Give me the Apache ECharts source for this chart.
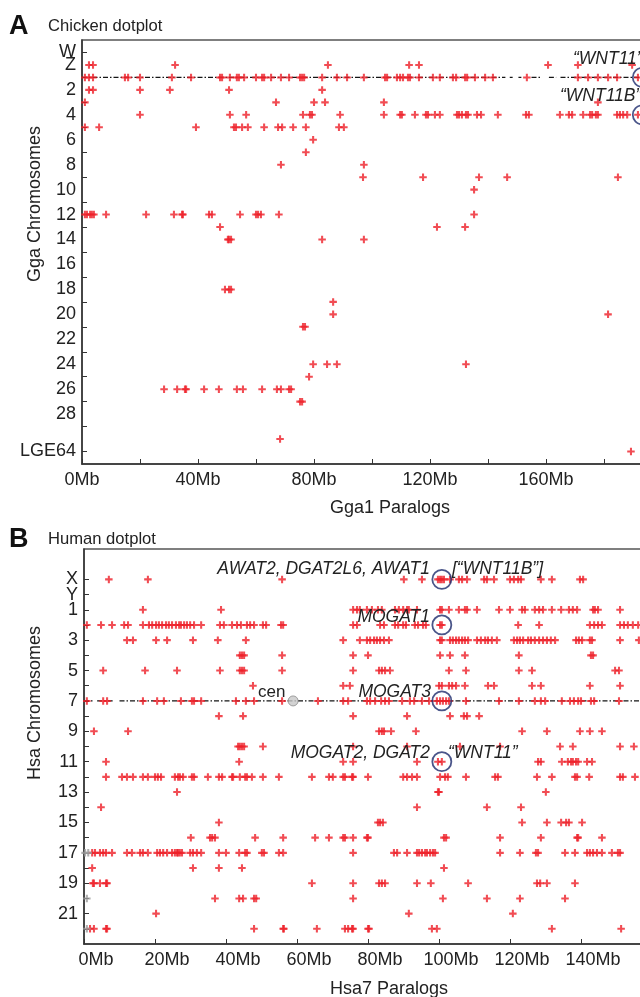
<!DOCTYPE html>
<html><head><meta charset="utf-8">
<script src="https://cdn.jsdelivr.net/npm/echarts@6/dist/echarts.min.js"></script>
<style>html,body{margin:0;padding:0;background:#fff}#c{width:640px;height:997px}</style>
</head><body><div id="c"></div><script>
// ---------- Panel A : Chicken dotplot (Gga1 paralog positions, Mb) ----------
const ggaCats = ['top','W','Z','1','2','3','4','5','6','7','8','9','10','11','12','13','14','15','16','17','18','19','20','21','22','23','24','25','26','27','28','29','30','LGE64','bottom'];
const ggaLabelled = ['W','Z','2','4','6','8','10','12','14','16','18','20','22','24','26','28','LGE64'];
const ggaTicked = ['W','1','3','5','7','9','11','13','15','17','19','21','23','25','27','29','LGE64'];
const ggaXTicks = [0, 40, 80, 120, 160];

const ggaZ = [2.4, 3.8, 32.1, 84.8, 112.8, 116.2, 160.7, 171.0, 189.7];
const gga1 = [1.0, 2.4, 3.8, 14.8, 15.9, 20.0, 31.0, 37.6, 47.6, 48.3, 51.0, 53.4, 54.1, 55.9, 60.0, 62.1, 62.8, 65.2, 68.6, 71.4, 75.2, 75.9, 76.6, 82.8, 87.9, 91.4, 97.2, 104.5, 105.2, 108.6, 109.7, 110.7, 112.4, 113.1, 116.2, 121.0, 123.4, 127.9, 129.0, 132.1, 132.8, 135.5, 139.0, 141.7, 153.4, 171.0, 174.5, 177.9, 181.4, 184.5, 191.7];
const gga2 = [2.4, 3.8, 20.0, 30.3, 50.7, 82.8];
const gga3 = [1.0, 66.9, 80.0, 83.8, 104.1, 177.9];
const gga4 = [20.0, 51.0, 56.6, 76.2, 78.6, 79.3, 89.0, 104.1, 109.7, 110.3, 114.8, 118.6, 119.3, 121.7, 123.4, 129.3, 130.0, 131.0, 132.4, 133.1, 136.2, 137.6, 143.4, 153.1, 154.1, 164.8, 167.9, 169.0, 172.8, 175.2, 175.9, 177.2, 177.9, 184.5, 185.5, 186.6, 188.0, 191.7];
const gga5 = [1.0, 5.9, 39.3, 52.4, 53.1, 55.2, 57.2, 62.8, 67.6, 69.0, 72.8, 77.2, 88.6, 90.3];
const gga6 = [79.7];
const gga7 = [77.2];
const gga8 = [68.6, 97.2];
const gga9 = [96.9, 117.6, 136.9, 146.6, 184.8];
const gga10 = [135.2];
const gga12 = [1.0, 1.7, 2.8, 3.4, 4.1, 8.3, 22.1, 31.7, 34.5, 34.8, 43.8, 44.8, 54.5, 60.0, 60.7, 61.7, 67.9, 135.2];
const gga13 = [47.6, 122.4, 132.1];
const gga14 = [50.3, 50.7, 51.4, 82.8, 97.2];
const gga18 = [49.3, 50.7, 51.4];
const gga19 = [86.6];
const gga20 = [86.6, 181.4];
const gga21 = [76.2, 76.9];
const gga24 = [79.7, 84.5, 87.9, 132.4];
const gga25 = [78.3];
const gga26 = [28.3, 32.8, 35.5, 35.9, 42.1, 47.2, 53.4, 55.5, 62.1, 67.2, 68.6, 71.4, 72.1];
const gga27 = [75.2, 75.9];
const gga30 = [68.3];
const ggaLGE64 = [189.3];
const ggaRows = [['Z',ggaZ],['1',gga1],['2',gga2],['3',gga3],['4',gga4],['5',gga5],['6',gga6],['7',gga7],['8',gga8],['9',gga9],['10',gga10],['12',gga12],['13',gga13],['14',gga14],['18',gga18],['19',gga19],['20',gga20],['21',gga21],['24',gga24],['25',gga25],['26',gga26],['27',gga27],['30',gga30],['LGE64',ggaLGE64]];
const ggaSelfSegments = [[0, 146], [147.5, 148.5], [150.5, 151.5], [155, 158.5], [161, 163.5], [165, 200]];
const ggaCircles = [[193.2, '1'], [193.2, '4']];

// ---------- Panel B : Human dotplot (Hsa7 paralog positions, Mb) ----------
const hsaCats = ['top2','top1','X','Y','1','2','3','4','5','6','7','8','9','10','11','12','13','14','15','16','17','18','19','20','21','22','bottom'];
const hsaLabelled = ['X','Y','1','3','5','7','9','11','13','15','17','19','21'];
const hsaTicked = ['X','Y','1','2','3','4','5','6','7','8','9','10','11','12','13','14','15','16','17','18','19','20','21','22'];
const hsaXTicks = [0, 20, 40, 60, 80, 100, 120, 140];

const hsaX = [7.0, 18.0, 55.8, 90.1, 95.2, 99.7, 100.3, 100.8, 101.4, 103.1, 105.6, 106.5, 107.9, 112.7, 113.5, 115.5, 120.0, 121.1, 122.3, 123.1, 128.7, 131.8, 139.7, 140.6];
const hsa1 = [16.6, 38.6, 75.8, 76.9, 77.7, 79.7, 81.1, 82.8, 83.9, 87.6, 88.7, 89.9, 91.0, 91.5, 93.8, 100.3, 100.8, 102.8, 105.6, 107.3, 107.9, 110.7, 116.9, 120.0, 123.4, 124.2, 127.0, 128.2, 129.3, 131.8, 134.4, 136.6, 137.7, 138.9, 143.4, 143.9, 144.8, 151.0];
const hsa2 = [0.8, 4.8, 7.9, 11.3, 12.4, 16.6, 18.3, 19.2, 20.3, 21.1, 22.0, 23.1, 23.9, 24.8, 25.9, 26.8, 27.3, 28.2, 29.0, 29.9, 31.0, 33.0, 38.3, 39.4, 41.7, 43.1, 44.2, 45.9, 46.8, 47.9, 50.4, 51.3, 55.5, 56.1, 75.8, 76.9, 83.4, 84.5, 87.6, 88.5, 89.9, 90.7, 93.2, 94.1, 95.5, 96.3, 100.3, 100.8, 122.3, 128.2, 142.5, 143.7, 144.8, 145.9, 151.0, 152.1, 153.2, 154.6, 156.1];
const hsa3 = [12.1, 13.8, 20.3, 23.4, 30.7, 37.7, 45.6, 73.0, 77.7, 79.7, 80.6, 81.7, 82.5, 83.4, 84.5, 85.9, 100.3, 100.8, 103.1, 103.9, 104.8, 105.6, 106.5, 107.3, 108.2, 110.7, 111.8, 113.0, 113.8, 114.9, 116.3, 121.1, 122.0, 122.8, 123.7, 125.1, 125.9, 127.0, 128.2, 129.3, 130.4, 131.5, 132.7, 138.6, 139.4, 140.3, 142.5, 143.1, 151.0, 156.3];
const hsa4 = [43.9, 44.5, 45.1, 55.8, 75.8, 80.0, 100.3, 103.1, 107.3, 122.5, 142.8, 143.4];
const hsa5 = [5.4, 17.2, 26.2, 38.3, 43.9, 44.5, 45.1, 55.8, 75.8, 83.1, 83.9, 84.8, 86.2, 102.8, 107.6, 122.5, 126.2, 149.6, 150.7];
const hsa6 = [47.6, 73.0, 74.9, 100.0, 100.8, 102.8, 103.7, 104.8, 107.3, 113.8, 115.5, 126.2, 128.7, 142.5, 151.0];
const hsa7 = [0.8, 5.4, 6.5, 16.6, 20.6, 22.5, 27.3, 30.4, 31.0, 33.0, 42.8, 45.6, 47.9, 55.8, 65.9, 73.0, 74.4, 79.7, 80.6, 82.0, 83.7, 84.8, 85.9, 89.6, 91.8, 93.0, 95.2, 97.2, 99.4, 100.3, 101.1, 102.0, 102.8, 107.6, 116.9, 122.5, 127.0, 128.7, 129.9, 134.6, 136.9, 138.0, 139.2, 140.0, 142.8, 143.7, 150.7];
const hsa8 = [38.0, 44.8, 75.8, 91.0, 103.1, 107.0, 107.9, 111.3];
const hsa9 = [2.8, 12.4, 83.1, 83.9, 84.5, 86.5, 93.5, 123.4, 130.4, 139.7, 142.5, 145.9];
const hsa10 = [43.4, 43.9, 44.5, 45.1, 50.4, 75.8, 91.0, 105.9, 117.2, 134.1, 137.7, 151.0, 154.9];
const hsa11 = [6.2, 43.7, 73.0, 75.8, 93.8, 99.7, 100.8, 127.9, 128.7, 134.6, 136.3, 137.2, 137.7, 138.6, 139.2, 141.7, 143.1];
const hsa12 = [6.2, 10.7, 12.1, 13.8, 16.6, 18.0, 20.0, 20.8, 21.7, 25.6, 26.5, 27.0, 27.9, 30.4, 31.0, 34.9, 38.0, 38.9, 41.7, 42.0, 43.9, 45.4, 45.9, 47.3, 50.4, 54.9, 64.2, 69.0, 70.1, 73.0, 73.5, 75.5, 75.8, 80.0, 89.9, 91.0, 92.4, 93.8, 100.3, 101.7, 102.5, 107.6, 115.8, 116.6, 127.6, 131.8, 138.3, 138.9, 142.3, 151.0, 151.8, 155.2];
const hsa13 = [26.2, 99.7, 100.0, 130.1];
const hsa14 = [4.8, 93.8, 113.5, 123.1];
const hsa15 = [38.0, 82.8, 83.4, 84.2, 123.4, 130.4, 134.4, 135.8, 136.6, 140.3];
const hsa16 = [30.1, 35.5, 36.1, 36.9, 48.2, 56.1, 65.1, 69.0, 73.0, 73.5, 75.8, 79.7, 80.0, 101.4, 102.0, 117.2, 128.7, 138.9, 139.2, 145.9];
const hsa17 = [2.3, 3.1, 4.5, 5.4, 6.2, 7.9, 12.1, 13.5, 15.8, 16.6, 18.0, 20.6, 21.4, 22.3, 23.4, 24.8, 25.6, 26.2, 26.5, 27.0, 27.6, 29.9, 30.7, 31.8, 33.0, 38.0, 40.0, 43.7, 45.4, 45.9, 50.1, 50.7, 54.9, 56.1, 75.8, 87.3, 88.2, 91.0, 93.8, 94.4, 95.2, 96.1, 96.6, 97.5, 98.3, 98.9, 117.2, 122.8, 127.3, 127.9, 135.5, 138.3, 141.7, 142.5, 143.4, 144.5, 145.9, 148.7, 150.4, 151.0];
const hsa18 = [2.3, 30.7, 38.0, 44.5, 101.4];
const hsa19 = [2.5, 2.8, 4.5, 6.2, 6.5, 64.2, 75.8, 83.1, 83.9, 84.8, 93.8, 97.7, 108.2, 127.6, 128.5, 130.4, 138.3];
const hsa20 = [36.9, 43.7, 44.8, 47.9, 48.5, 75.8, 101.1, 113.5, 122.8, 135.5];
const hsa21 = [20.3, 91.5, 120.8];
const hsa22 = [1.7, 2.8, 6.2, 6.5, 47.9, 56.1, 56.3, 65.6, 73.5, 74.4, 75.5, 75.8, 80.0, 80.3, 98.0, 99.4, 131.8, 151.3];
const hsaRows = [['X',hsaX],['1',hsa1],['2',hsa2],['3',hsa3],['4',hsa4],['5',hsa5],['6',hsa6],['7',hsa7],['8',hsa8],['9',hsa9],['10',hsa10],['11',hsa11],['12',hsa12],['13',hsa13],['14',hsa14],['15',hsa15],['16',hsa16],['17',hsa17],['18',hsa18],['19',hsa19],['20',hsa20],['21',hsa21],['22',hsa22]];
const hsaGrey17 = [0.3, 1.2];
const hsaGrey20 = [0.8];
const hsaGrey22 = [0.8];
const hsaSelfSegments = [[0, 2.8], [3.7, 8.6], [10, 160]];
const hsaCen = [58.9];
const hsaCircles = [[100.8, 'X'], [100.8, '2'], [100.8, '7'], [100.8, '11']];

// ---------- build ----------
const FONT = '"Liberation Sans", Arial, Helvetica, sans-serif';
const PLUS = 'path://M2.9,0H5.1V2.9H8V5.1H5.1V8H2.9V5.1H0V2.9H2.9Z';
const RED = '#ee1f28';
const INK = '#222';

function rowsToData(rows) {
  const out = [];
  rows.forEach(([name, arr]) => arr.forEach(x => out.push([x, name])));
  return out;
}
function plusSeries(data, xi, color) {
  return { type: 'scatter', xAxisIndex: xi, yAxisIndex: xi, data: data, symbol: PLUS, symbolSize: 7.5,
    itemStyle: { color: color }, z: 4, silent: true, animation: false };
}
function selfLine(seg, xi, row) {
  return { type: 'line', xAxisIndex: xi, yAxisIndex: xi, data: [[seg[0], row], [seg[1], row]],
    symbol: 'none', lineStyle: { color: '#151515', width: 1.4, type: [5, 2, 1.5, 2] }, z: 3, silent: true, animation: false };
}
function circleSeries(data, xi) {
  return { type: 'scatter', xAxisIndex: xi, yAxisIndex: xi, data: data, symbol: 'circle', symbolSize: 19,
    itemStyle: { color: 'rgba(0,0,0,0)', borderColor: '#1d2a6c', borderWidth: 1.8 }, z: 6, silent: true, clip: false };
}

const ggaLabSet = new Set(ggaLabelled), ggaTickSet = new Set(ggaTicked);
const hsaLabSet = new Set(hsaLabelled), hsaTickSet = new Set(hsaTicked);

function xAxisCfg(gi, max, labelSet, pad) {
  return { type: 'value', gridIndex: gi, min: 0, max: max, interval: 20,
    axisLine: { show: true, lineStyle: { color: '#333', width: 1.5 } },
    axisTick: { show: true, inside: true, length: 5, lineStyle: { color: '#333', width: 1 } },
    splitLine: { show: false },
    axisLabel: { fontSize: 18, fontFamily: FONT, color: INK, margin: 7, padding: pad, hideOverlap: false,
      formatter: v => labelSet.includes(v) ? v + 'Mb' : '' } };
}
function yAxisCfg(gi, cats, labSet, tickSet) {
  return { type: 'category', gridIndex: gi, data: cats, inverse: true, boundaryGap: false,
    axisLine: { show: true, lineStyle: { color: '#333', width: 1.5 } },
    axisTick: { show: true, inside: true, length: 5, lineStyle: { color: '#333', width: 1 },
      interval: (i, v) => tickSet.has(v) },
    splitLine: { show: false },
    axisLabel: { fontSize: 18, fontFamily: FONT, color: INK, margin: 6, hideOverlap: false,
      interval: 0, formatter: v => labSet.has(v) ? v : '' } };
}

const series = [];
ggaSelfSegments.forEach(s => series.push(selfLine(s, 0, '1')));
hsaSelfSegments.forEach(s => series.push(selfLine(s, 1, '7')));
series.push(plusSeries(rowsToData(ggaRows), 0, RED));
series.push(plusSeries(rowsToData(hsaRows), 1, RED));
series.push(plusSeries(rowsToData([['17', hsaGrey17], ['20', hsaGrey20], ['22', hsaGrey22]]), 1, '#9a9a9a'));
series.push({ type: 'scatter', xAxisIndex: 1, yAxisIndex: 1, data: hsaCen.map(x => [x, '7']), symbol: 'circle', symbolSize: 10,
  itemStyle: { color: '#c8c8c8', borderColor: '#8c8c8c', borderWidth: 1 }, z: 5, silent: true });
series.push(circleSeries(ggaCircles, 0));
series.push(circleSeries(hsaCircles, 1));

function txt(x, y, s, opt) {
  opt = opt || {};
  return { type: 'text', x: x, y: y, rotation: opt.rot || 0, z: 100,
    style: { text: s, fill: opt.fill || INK, fontFamily: FONT, fontSize: opt.size || 18,
      fontStyle: opt.style || 'normal', fontWeight: opt.weight || 'normal',
      align: opt.align || 'left', verticalAlign: 'middle',
      textAlign: opt.align || 'left', textVerticalAlign: 'middle' } };
}

const graphic = [
  txt(9, 27, 'A', { size: 27, weight: 'bold', fill: '#111' }),
  txt(48, 26, 'Chicken dotplot', { size: 16.6 }),
  txt(9, 540, 'B', { size: 27, weight: 'bold', fill: '#111' }),
  txt(48, 539, 'Human dotplot', { size: 16.6 }),
  txt(35, 204, 'Gga Chromosomes', { rot: Math.PI / 2, align: 'center' }),
  txt(35, 703, 'Hsa Chromosomes', { rot: Math.PI / 2, align: 'center' }),
  txt(390, 508, 'Gga1 Paralogs', { align: 'center' }),
  txt(389, 989, 'Hsa7 Paralogs', { align: 'center' }),
  txt(573, 59, '\u201CWNT11\u201D', { style: 'italic', size: 17.5 }),
  txt(560, 96, '\u201CWNT11B\u201D', { style: 'italic', size: 17.5 }),
  txt(430, 569, 'AWAT2, DGAT2L6, AWAT1', { style: 'italic', size: 17.5, align: 'right' }),
  txt(452, 569, '[\u201CWNT11B\u201D]', { style: 'italic', size: 17.5 }),
  txt(430, 617, 'MOGAT1', { style: 'italic', size: 17.5, align: 'right' }),
  txt(431, 692, 'MOGAT3', { style: 'italic', size: 17.5, align: 'right' }),
  txt(430, 753, 'MOGAT2, DGAT2', { style: 'italic', size: 17.5, align: 'right' }),
  txt(448, 753, '\u201CWNT11\u201D', { style: 'italic', size: 17.5 }),
  txt(258, 692, 'cen', { size: 17 })
];

const chart = echarts.init(document.getElementById('c'), null, { renderer: 'canvas' });
chart.setOption({
  animation: false,
  backgroundColor: '#fff',
  textStyle: { fontFamily: FONT },
  grid: [
    { left: 82, top: 40, width: 580, height: 424, outerBoundsMode: 'none', containLabel: false, show: true, borderColor: '#555', borderWidth: 1.5, backgroundColor: 'rgba(0,0,0,0)' },
    { left: 84, top: 549, width: 568, height: 395, outerBoundsMode: 'none', containLabel: false, show: true, borderColor: '#555', borderWidth: 1.5, backgroundColor: 'rgba(0,0,0,0)' }
  ],
  xAxis: [xAxisCfg(0, 200, ggaXTicks, 0), xAxisCfg(1, 160, hsaXTicks, [0, 0, 0, 24])],
  yAxis: [yAxisCfg(0, ggaCats, ggaLabSet, ggaTickSet), yAxisCfg(1, hsaCats, hsaLabSet, hsaTickSet)],
  series: series,
  graphic: graphic
});
</script></body></html>
